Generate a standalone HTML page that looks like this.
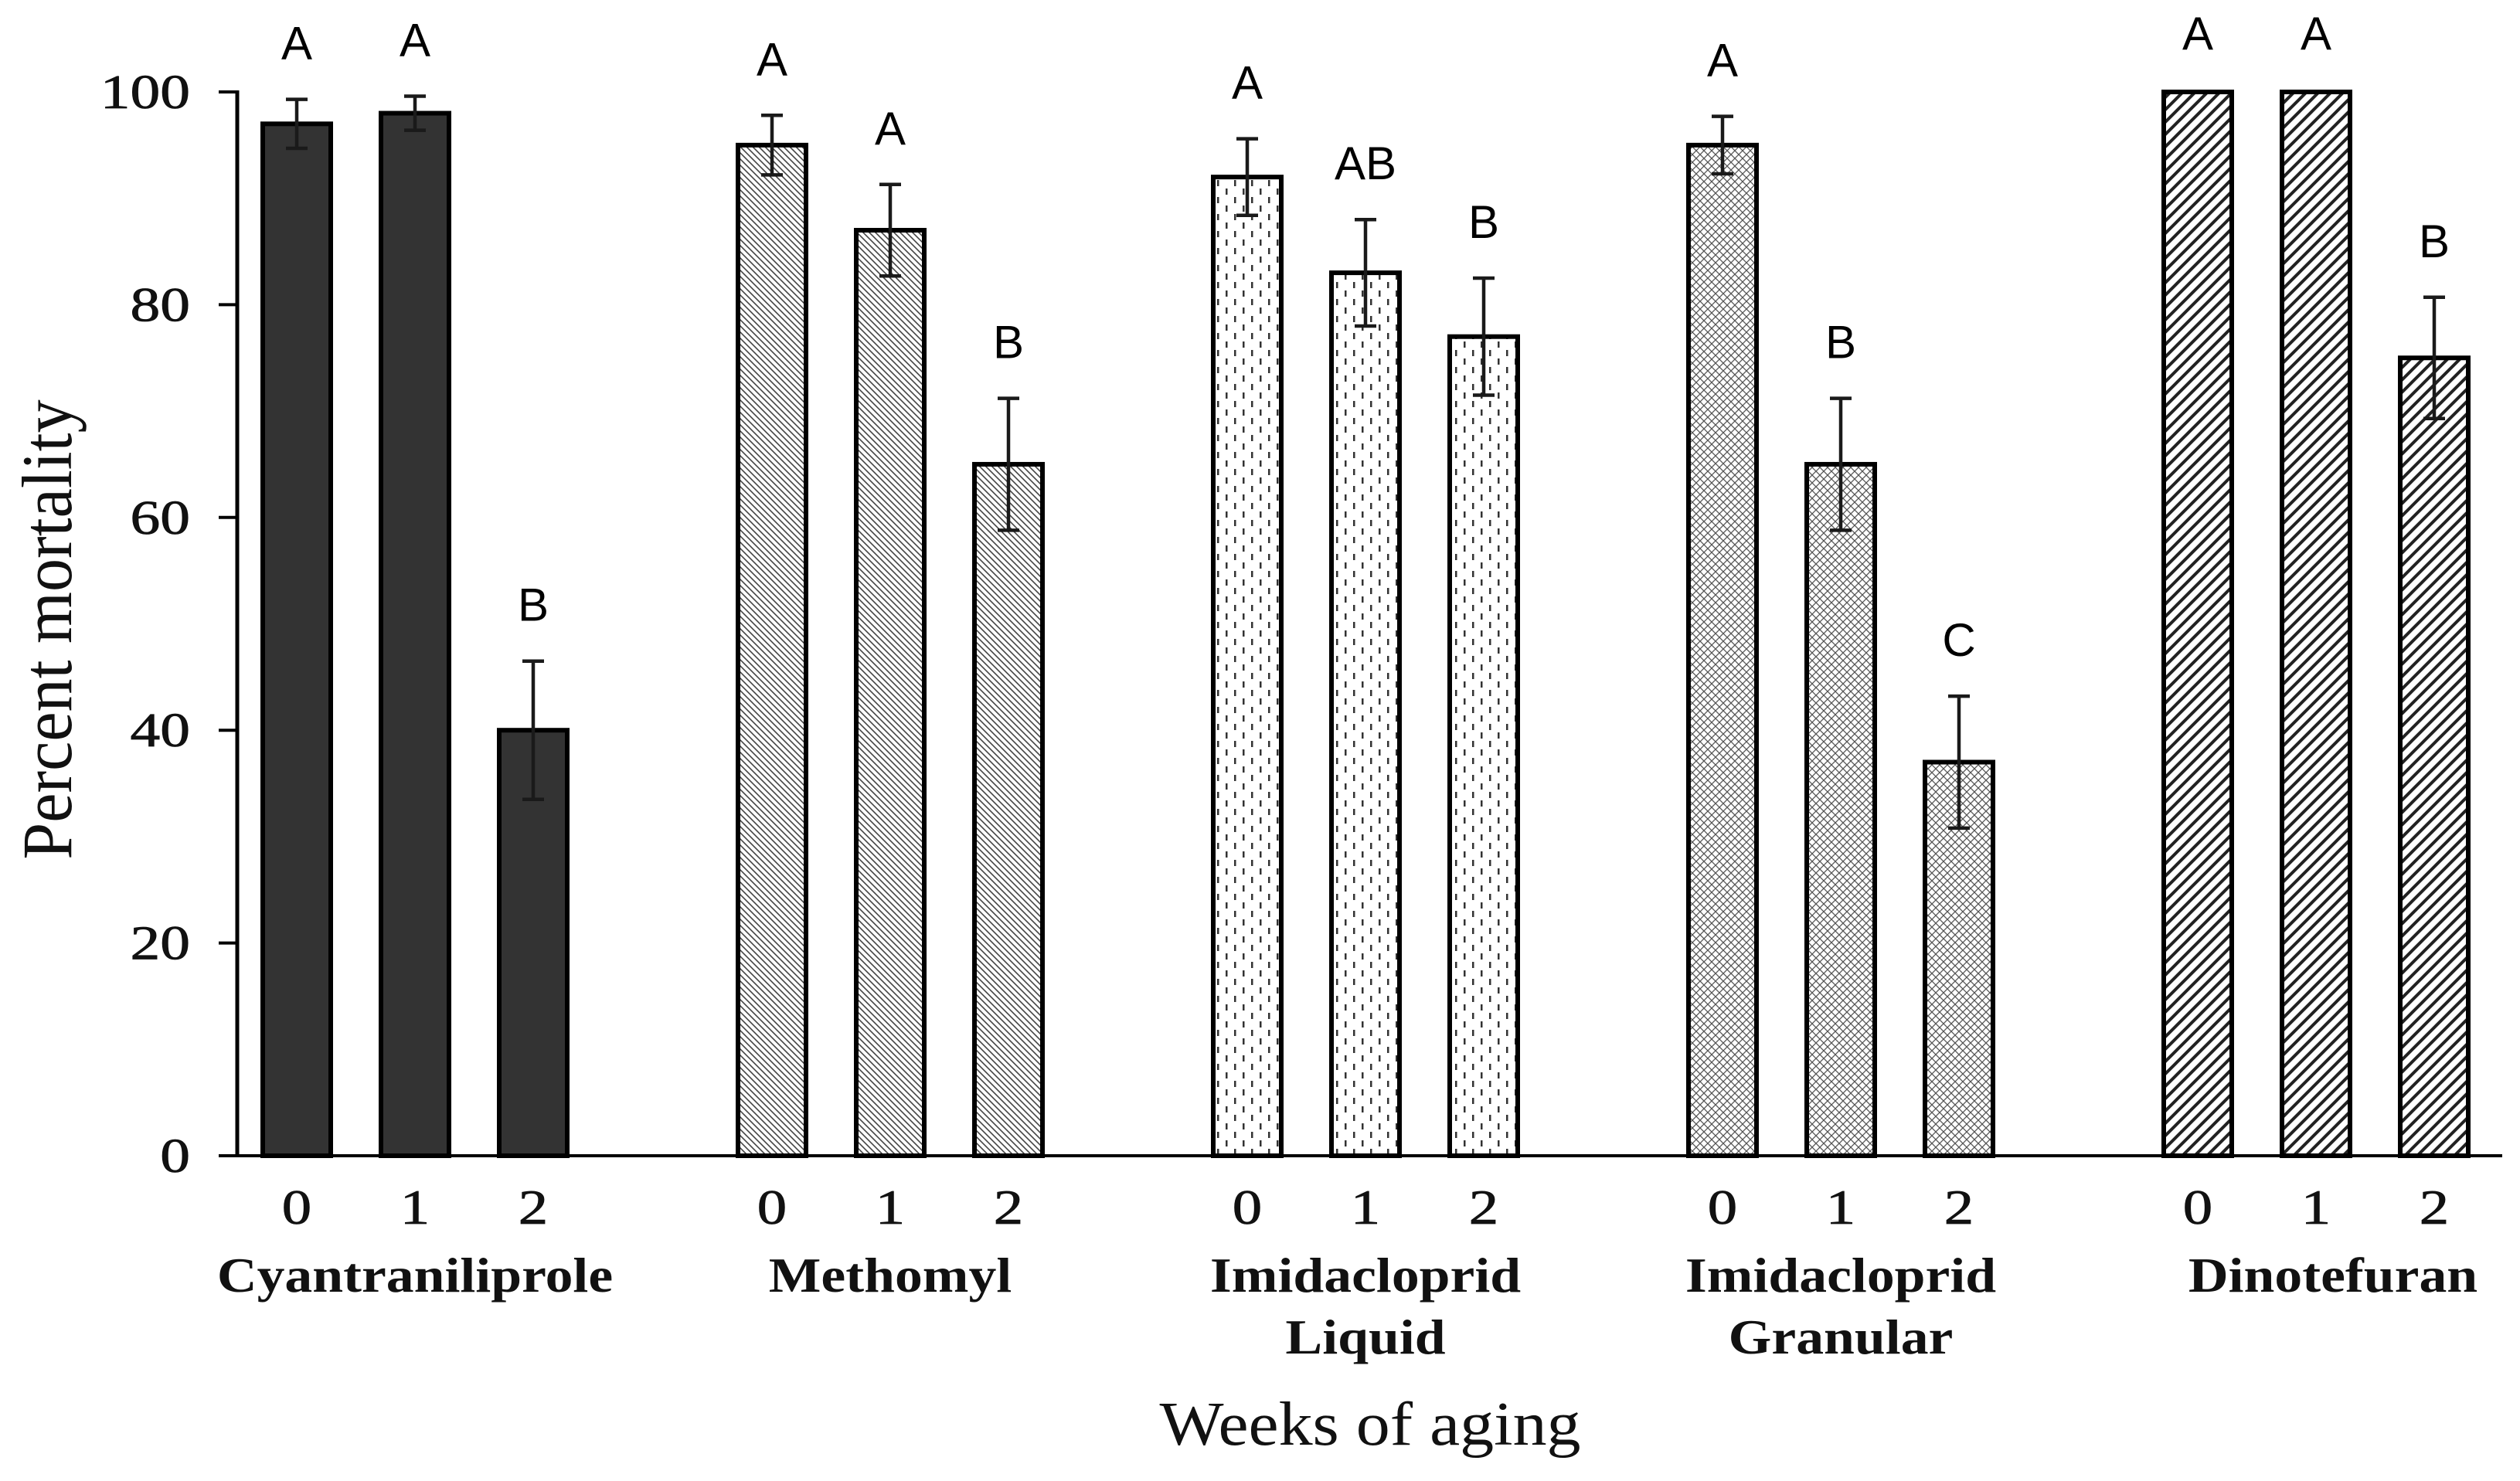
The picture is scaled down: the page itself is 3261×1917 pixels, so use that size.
<!DOCTYPE html>
<html><head><meta charset="utf-8"><style>
html,body{margin:0;padding:0;background:#fff;}
svg{display:block;}
</style></head><body>
<svg id="chart" width="3261" height="1917" viewBox="0 0 3261 1917" xmlns="http://www.w3.org/2000/svg">
<defs>
<pattern id="p-solid" patternUnits="userSpaceOnUse" width="10" height="10"><rect width="10" height="10" fill="#333"/></pattern>
<pattern id="p-meth" patternUnits="userSpaceOnUse" width="8" height="8"><rect width="8" height="8" fill="#fff"/><path d="M-2,-2 L10,10 M-2,6 L2,10 M6,-2 L10,2" stroke="#444" stroke-width="1.6"/></pattern>
<pattern id="p-imidl" patternUnits="userSpaceOnUse" width="22" height="22"><rect width="22" height="22" fill="#fff"/><rect x="2" y="2" width="2.5" height="8" fill="#333"/><rect x="13" y="13" width="2.5" height="8" fill="#333"/></pattern>
<pattern id="p-imidg" patternUnits="userSpaceOnUse" width="10" height="10"><rect width="10" height="10" fill="#fff"/><path d="M0,0 L10,10 M10,0 L0,10" stroke="#555" stroke-width="1.3"/></pattern>
<pattern id="p-dino" patternUnits="userSpaceOnUse" width="16" height="16"><rect width="16" height="16" fill="#fff"/><path d="M-4,4 L4,-4 M0,16 L16,0 M12,20 L20,12" stroke="#222" stroke-width="4"/></pattern>
</defs>
<g id="plot"></g>
</svg>
<script>
const groups = ["Cyantraniliprole","Methomyl","Imidacloprid|Liquid","Imidacloprid|Granular","Dinotefuran"];
const weeks = ["0","1","2"];
const mortality = [[97,98,40],[95,87,65],[92,83,77],[95,65,37],[100,100,75]];
const stderr = [[2.3,1.6,6.5],[2.8,4.3,6.2],[3.6,5,5.5],[2.7,6.2,6.2],[0,0,5.7]];
const letters = [["A","A","B"],["A","A","B"],["A","AB","B"],["A","B","C"],["A","A","B"]];
const yTicks = [0,20,40,60,80,100];
const fills = ["p-solid","p-meth","p-imidl","p-imidg","p-dino"];

const NS="http://www.w3.org/2000/svg";
const g=document.getElementById('plot');
const x0=307, xEnd=3238, yBase=1496, yTop=119;
const y=v=>yBase-(yBase-yTop)*v/100;
const barX=(gi,wi)=>384+gi*615+wi*153;
const BW=88;
function mk(tag,attrs,parent){const e=document.createElementNS(NS,tag);for(const k in attrs)e.setAttribute(k,attrs[k]);(parent||g).appendChild(e);return e;}

// y ticks
yTicks.forEach(t=>{
  const l=mk('line',{x1:x0-24,x2:x0,y1:y(t),y2:y(t),stroke:'#000','stroke-width':4});
  
  
  const tx=mk('text',{x:0,y:0,transform:`translate(246,${y(t)+21}) scale(1.25,1)`,'text-anchor':'end','font-family':'Liberation Serif, serif','font-size':62,fill:'#111',stroke:'#111','stroke-width':0.8});
  tx.textContent=t;
  
  
});

// bars
mortality.forEach((ser,gi)=>{
  ser.forEach((v,wi)=>{
    const cx=barX(gi,wi);
    const r=mk('rect',{x:cx-BW/2,y:y(v),width:BW,height:yBase-y(v),fill:'url(#'+fills[gi]+')',stroke:'#000','stroke-width':6});
    
    
    const e=stderr[gi][wi];
    let top=y(v);
    if(e>0){
      top=y(v+e);const bot=y(v-e);
      const eb=mk('path',{d:`M${cx},${top}V${bot}M${cx-14},${top}H${cx+14}M${cx-14},${bot}H${cx+14}`,stroke:'#1a1a1a','stroke-width':4.5,fill:'none'});
      
      
    }
    const lt=mk('text',{x:cx,y:top-(e>0?52:55),'text-anchor':'middle','font-family':'Liberation Sans, sans-serif','font-size':60,fill:'#000'});
    lt.textContent=letters[gi][wi];
    
    
    const wt=mk('text',{x:0,y:0,transform:`translate(${cx},1584) scale(1.2,1)`,'text-anchor':'middle','font-family':'Liberation Serif, serif','font-size':64,fill:'#111',stroke:'#111','stroke-width':0.8});
    wt.textContent=weeks[wi];
    
    
  });
  const lines=groups[gi].split('|');
  lines.forEach((s,li)=>{
    const t=mk('text',{x:0,y:0,transform:`translate(${barX(gi,1)+(gi===4?22:0)},${1672+li*80}) scale(1.12,1)`,'text-anchor':'middle','font-family':'Liberation Serif, serif','font-size':64,'font-weight':'bold',fill:'#111'});
    t.textContent=s;
    
    
  });
});

// axes
const ya=mk('line',{x1:x0,x2:x0,y1:yTop-2,y2:yBase,stroke:'#000','stroke-width':5});


const xa=mk('line',{x1:x0-24,x2:xEnd,y1:yBase,y2:yBase,stroke:'#000','stroke-width':4});



const yt=mk('text',{x:0,y:0,transform:'translate(92,815) rotate(-90) scale(1.05,1.12)','text-anchor':'middle','font-family':'Liberation Serif, serif','font-size':82,fill:'#111'});
yt.textContent='Percent mortality';


const xt=mk('text',{x:0,y:0,transform:'translate(1773,1870) scale(1.1,1)','text-anchor':'middle','font-family':'Liberation Serif, serif','font-size':80,fill:'#111'});
xt.textContent='Weeks of aging';


</script>
</body></html>
